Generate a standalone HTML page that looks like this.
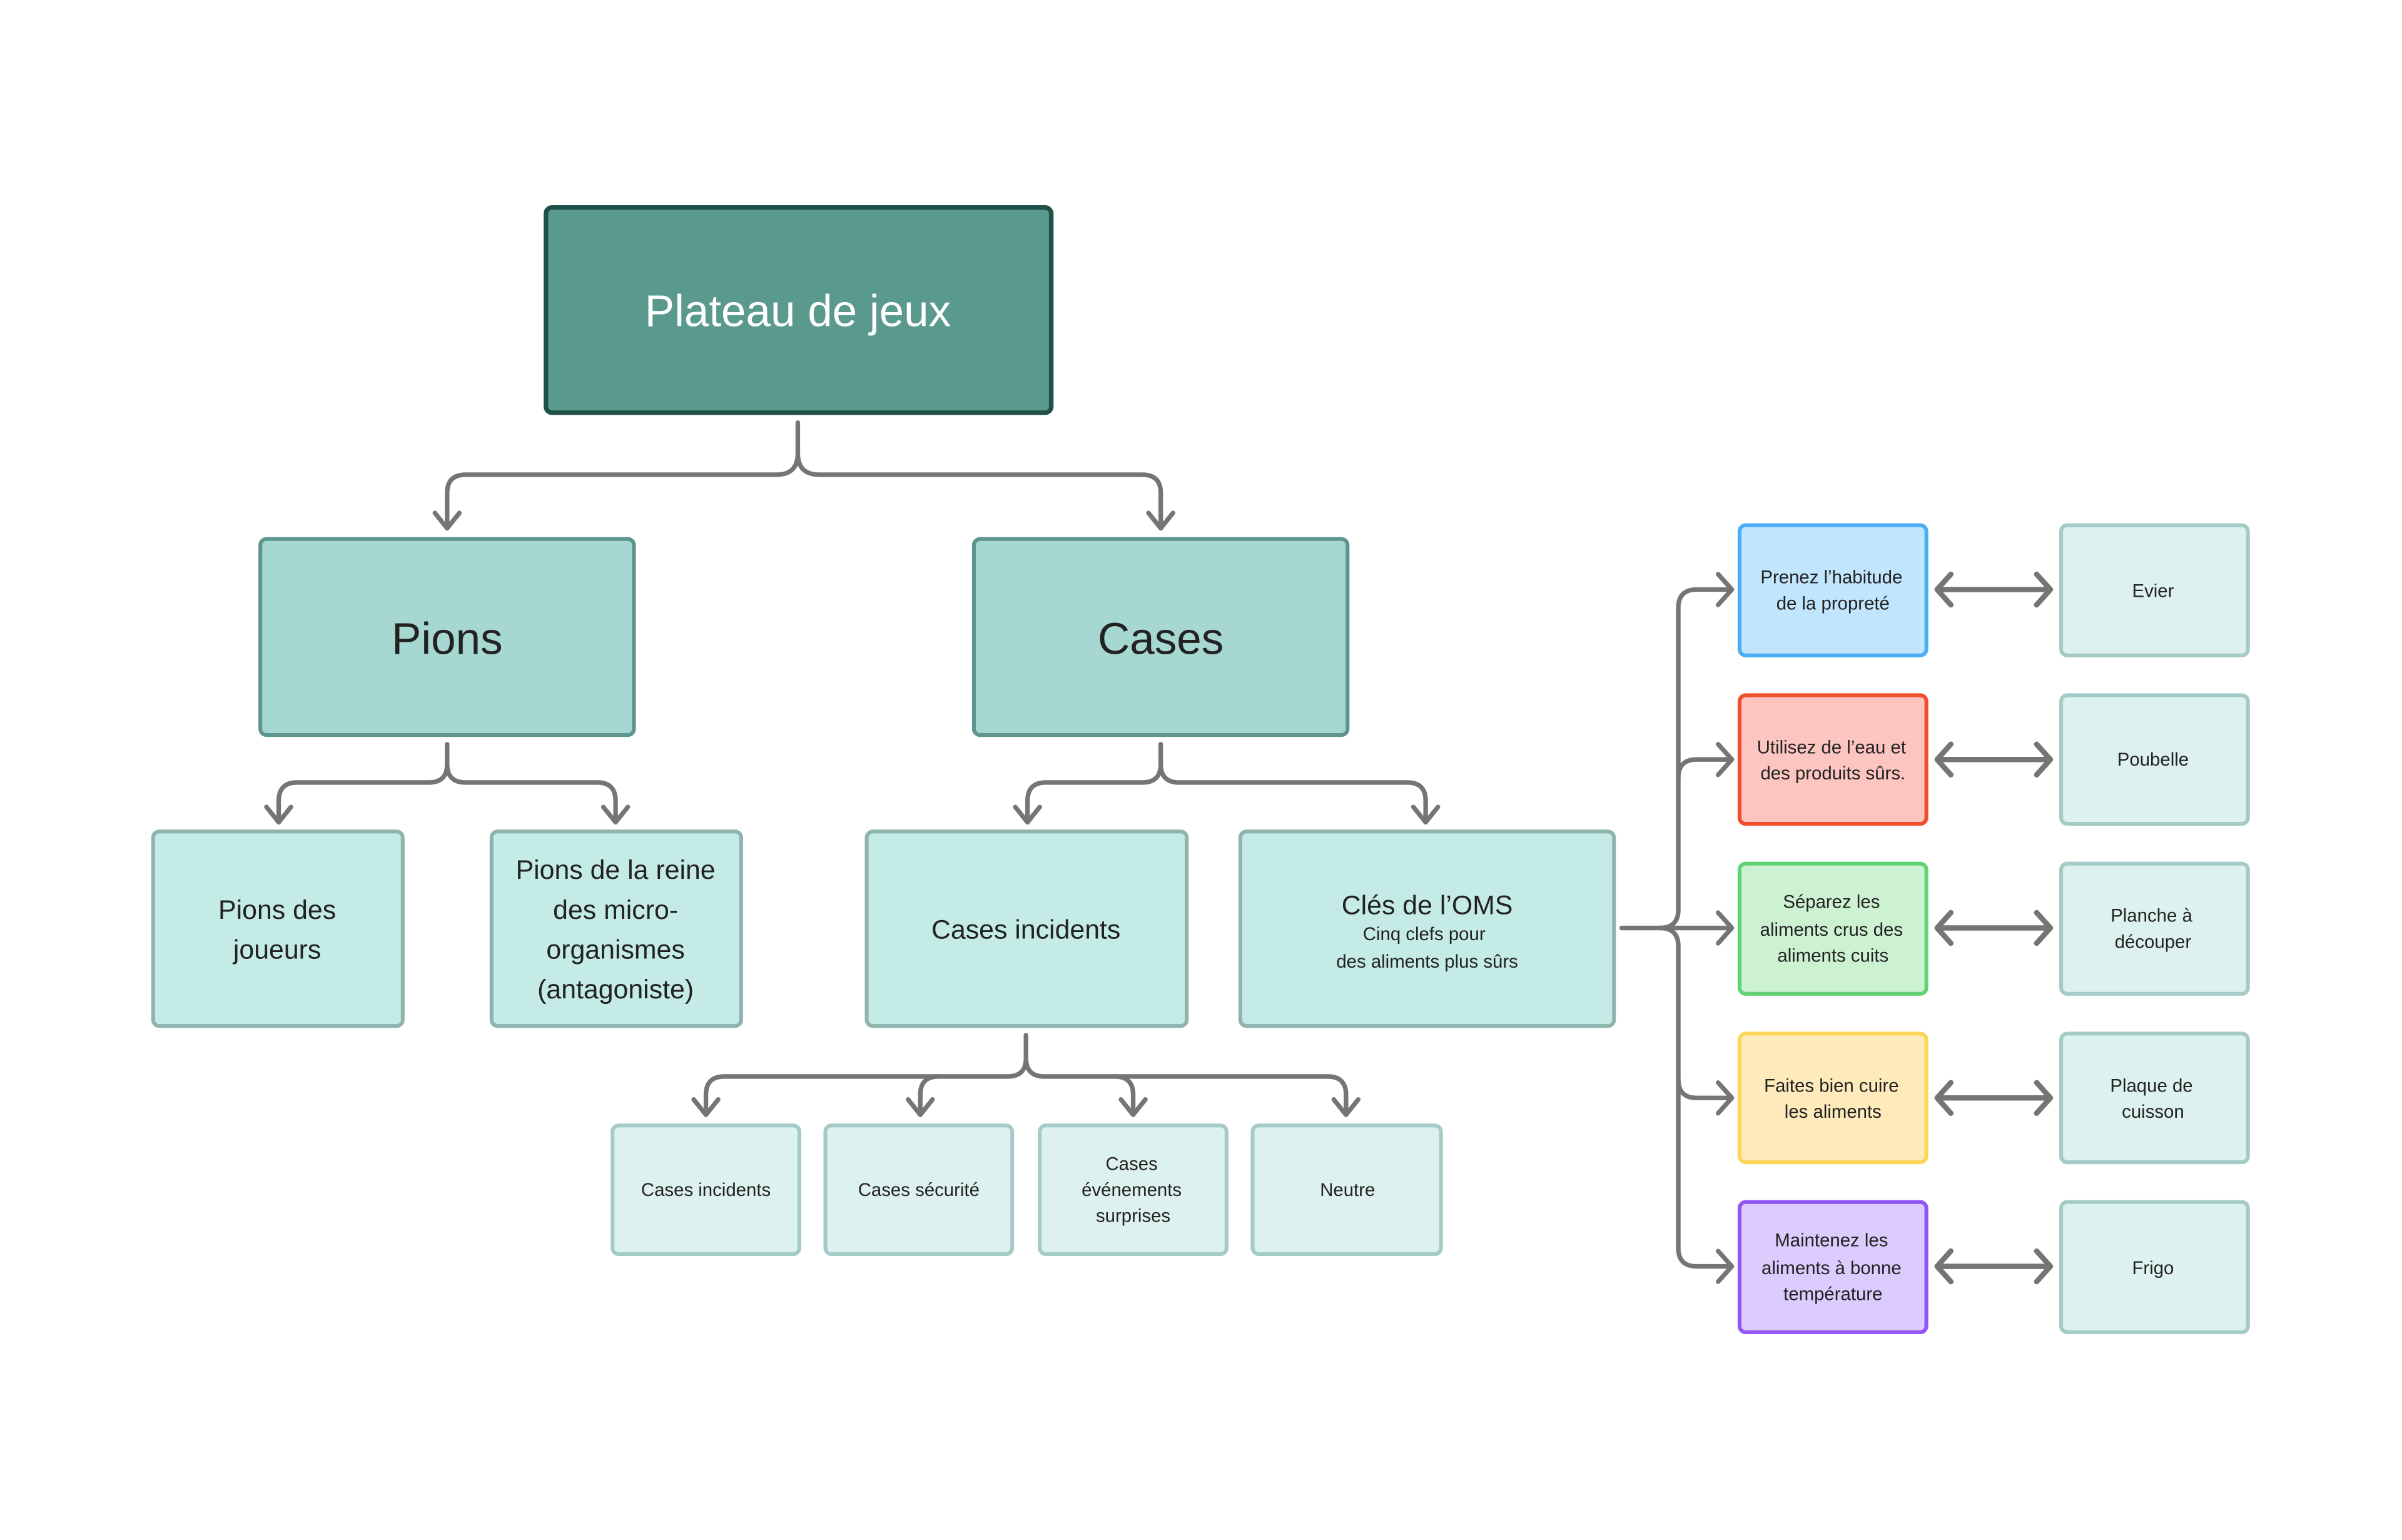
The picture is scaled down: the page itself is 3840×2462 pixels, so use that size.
<!DOCTYPE html>
<html><head><meta charset="utf-8"><style>
html,body{margin:0;padding:0;background:#fff}
svg{display:block}
text{font-family:"Liberation Sans",sans-serif;text-anchor:middle}
</style></head><body>
<svg width="3840" height="2462" viewBox="0 0 1568.6 1005.7" xmlns="http://www.w3.org/2000/svg">
<rect x="0" y="0" width="1568.6" height="1005.7" fill="#fff"/>
<g fill="none" stroke="#757575" stroke-width="3" stroke-linecap="round" stroke-linejoin="round">
<!-- Plateau fork -->
<path d="M521,276 V296 Q521,310 507,310 H304 Q292,310 292,322 V344"/>
<path d="M521,296 Q521,310 535,310 H746 Q758,310 758,322 V344"/>
<path d="M284,335 L292,345 L300,335"/><path d="M750,335 L758,345 L766,335"/>
<!-- Pions fork -->
<path d="M292,486 V499 Q292,511 280,511 H194 Q182,511 182,523 V536"/>
<path d="M292,499 Q292,511 304,511 H390 Q402,511 402,523 V536"/>
<path d="M174,527 L182,537 L190,527"/><path d="M394,527 L402,537 L410,527"/>
<!-- Cases fork -->
<path d="M758,486 V499 Q758,511 746,511 H683 Q671,511 671,523 V536"/>
<path d="M758,499 Q758,511 770,511 H919 Q931,511 931,523 V536"/>
<path d="M663,527 L671,537 L679,527"/><path d="M923,527 L931,537 L939,527"/>
<!-- Cases incidents fork -->
<path d="M670,676 V691 Q670,703 658,703 H473 Q461,703 461,715 V727"/>
<path d="M670,691 Q670,703 682,703 H867 Q879,703 879,715 V727"/>
<path d="M601,727 V715 Q601,703 613,703"/><path d="M740,727 V715 Q740,703 728,703"/>
<path d="M453,718 L461,728 L469,718"/><path d="M593,718 L601,728 L609,718"/>
<path d="M732,718 L740,728 L748,718"/><path d="M871,718 L879,728 L887,718"/>
<!-- Right trunk -->
<path d="M1059,606 H1130"/>
<path d="M1084,606 Q1096,606 1096,594 V397 Q1096,385 1108,385 H1130"/>
<path d="M1096,508 Q1096,496 1108,496 H1130"/>
<path d="M1084,606 Q1096,606 1096,618 V815 Q1096,827 1108,827 H1130"/>
<path d="M1096,705 Q1096,717 1108,717 H1130"/>
<path d="M1122,375 L1131,385 L1122,395"/><path d="M1122,486 L1131,496 L1122,506"/>
<path d="M1122,596 L1131,606 L1122,616"/><path d="M1122,707 L1131,717 L1122,727"/>
<path d="M1122,817 L1131,827 L1122,837"/>
</g>
<!-- double arrows -->
<g fill="none" stroke="#757575" stroke-width="3.5" stroke-linecap="round" stroke-linejoin="round">
<path d="M1266,385 H1338 M1274,375 L1265,385 L1274,395 M1330,375 L1339,385 L1330,395"/>
<path d="M1266,496 H1338 M1274,486 L1265,496 L1274,506 M1330,486 L1339,496 L1330,506"/>
<path d="M1266,606 H1338 M1274,596 L1265,606 L1274,616 M1330,596 L1339,606 L1330,616"/>
<path d="M1266,717 H1338 M1274,707 L1265,717 L1274,727 M1330,707 L1339,717 L1330,727"/>
<path d="M1266,827 H1338 M1274,817 L1265,827 L1274,837 M1330,817 L1339,827 L1330,837"/>
</g>
<!-- boxes -->
<rect x="356.5" y="135.5" width="330" height="134" rx="4" fill="#5a998d" stroke="#1f5148" stroke-width="3"/>
<text x="521" y="213" font-size="29" fill="#fff">Plateau de jeux</text>

<g fill="#a6d7d1" stroke="#5e958e" stroke-width="2.5">
<rect x="170" y="352" width="244" height="128" rx="4"/>
<rect x="636" y="352" width="244" height="128" rx="4"/>
</g>
<text x="292" y="427" font-size="29" fill="#222">Pions</text>
<text x="758" y="427" font-size="29" fill="#222">Cases</text>

<g fill="#c5ebe6" stroke="#8fb4ae" stroke-width="2.5">
<rect x="100" y="543" width="163" height="127" rx="4"/>
<rect x="321" y="543" width="163" height="127" rx="4"/>
<rect x="566" y="543" width="209" height="127" rx="4"/>
<rect x="810" y="543" width="244" height="127" rx="4"/>
</g>
<g font-size="17.5" fill="#222">
<text x="181" y="600">Pions des</text><text x="181" y="626">joueurs</text>
<text x="402" y="574">Pions de la reine</text><text x="402" y="600">des micro-</text>
<text x="402" y="626">organismes</text><text x="402" y="652">(antagoniste)</text>
<text x="670" y="613">Cases incidents</text>
<text x="932" y="597">Clés de l’OMS</text>
</g>
<g font-size="12" fill="#222">
<text x="930" y="614">Cinq clefs pour</text><text x="932" y="632">des aliments plus sûrs</text>
</g>

<g fill="#ddf2ee" stroke="#a5cbc6" stroke-width="2.5">
<rect x="400" y="735" width="122" height="84" rx="4"/>
<rect x="539" y="735" width="122" height="84" rx="4"/>
<rect x="679" y="735" width="122" height="84" rx="4"/>
<rect x="818" y="735" width="123" height="84" rx="4"/>
<rect x="1346" y="343" width="122" height="85" rx="4"/>
<rect x="1346" y="454" width="122" height="84" rx="4"/>
<rect x="1346" y="564" width="122" height="85" rx="4"/>
<rect x="1346" y="675" width="122" height="84" rx="4"/>
<rect x="1346" y="785" width="122" height="85" rx="4"/>
</g>
<g stroke-width="2.5">
<rect x="1136" y="343" width="122" height="85" rx="4" fill="#c1e5fc" stroke="#4aaef6"/>
<rect x="1136" y="454" width="122" height="84" rx="4" fill="#fcc5c0" stroke="#f04e2c"/>
<rect x="1136" y="564" width="122" height="85" rx="4" fill="#cdf2d2" stroke="#62d276"/>
<rect x="1136" y="675" width="122" height="84" rx="4" fill="#feeabb" stroke="#fcd55b"/>
<rect x="1136" y="785" width="122" height="85" rx="4" fill="#dccbfd" stroke="#9154f5"/>
</g>
<g font-size="12" fill="#222">
<text x="461" y="781">Cases incidents</text>
<text x="600" y="781">Cases sécurité</text>
<text x="739" y="764">Cases</text><text x="739" y="781">événements</text><text x="740" y="798">surprises</text>
<text x="880" y="781">Neutre</text>
<text x="1196" y="381">Prenez l’habitude</text><text x="1197" y="398">de la propreté</text>
<text x="1196" y="492">Utilisez de l’eau et</text><text x="1197" y="509">des produits sûrs.</text>
<text x="1196" y="593">Séparez les</text><text x="1196" y="611">aliments crus des</text><text x="1197" y="628">aliments cuits</text>
<text x="1196" y="713">Faites bien cuire</text><text x="1197" y="730">les aliments</text>
<text x="1196" y="814">Maintenez les</text><text x="1196" y="832">aliments à bonne</text><text x="1197" y="849">température</text>
<text x="1406" y="390">Evier</text>
<text x="1406" y="500">Poubelle</text>
<text x="1405" y="602">Planche à</text><text x="1406" y="619">découper</text>
<text x="1405" y="713">Plaque de</text><text x="1406" y="730">cuisson</text>
<text x="1406" y="832">Frigo</text>
</g>
</svg>
</body></html>
